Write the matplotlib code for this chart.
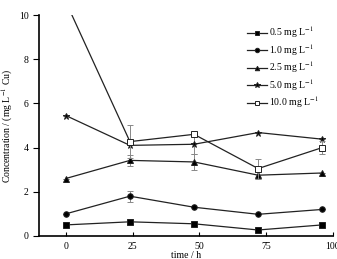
import matplotlib
matplotlib.use("Agg")
import matplotlib.pyplot as plt

plt.rcParams["font.family"] = ["Liberation Serif", "DejaVu Serif"]
plt.rcParams["mathtext.fontset"] = "stix"

time_h = [0, 24, 48, 72, 96]
conc_05 = [0.50, 0.64, 0.55, 0.27, 0.50]
conc_10 = [1.00, 1.80, 1.30, 0.98, 1.20]
conc_25 = [2.60, 3.42, 3.35, 2.75, 2.85]
conc_50 = [5.45, 4.10, 4.15, 4.68, 4.38]
conc_100 = [10.6, 4.27, 4.60, 3.05, 4.00]

# error bars only where the reference shows them
err_10 = [0, 0.25, 0, 0, 0]
err_25 = [0, 0.25, 0.35, 0.15, 0]
err_50 = [0, 0, 0.45, 0, 0]
err_100 = [0, 0.75, 0, 0.45, 0.3]

labels = ["0.5 mg L$^{-1}$", "1.0 mg L$^{-1}$", "2.5 mg L$^{-1}$",
          "5.0 mg L$^{-1}$", "10.0 mg L$^{-1}$"]

fig = plt.figure(figsize=(3.37, 2.59), dpi=100)
ax = fig.add_axes([0.116, 0.089, 0.872, 0.853])

series = [
    (conc_05, None, "s", "k"),
    (conc_10, err_10, "o", "k"),
    (conc_25, err_25, "^", "k"),
    (conc_50, err_50, "*", "k"),
    (conc_100, err_100, "s", "white"),
]
for (ys, err, mk, fc), lab in zip(series, labels):
    if err is not None:
        ax.errorbar(time_h, ys, yerr=err, fmt="none", ecolor="#888888",
                    elinewidth=0.7, capsize=2, capthick=0.7)
    ax.plot(time_h, ys, color="#222222", lw=0.9, marker=mk,
            ms=4 if mk != "*" else 5, mfc=fc, mec="#222222", mew=0.7,
            label=lab)

ax.set_xlim(-10, 100)
ax.set_ylim(0, 10)
ax.set_xticks([0, 25, 50, 75, 100])
ax.set_yticks([0, 2, 4, 6, 8, 10])
ax.spines["top"].set_visible(False)
ax.spines["right"].set_visible(False)
ax.spines["left"].set_linewidth(1.2)
ax.spines["bottom"].set_linewidth(1.2)
ax.tick_params(axis="x", direction="in", length=3, labelsize=7, pad=4)
ax.tick_params(axis="y", direction="out", length=4, labelsize=7)
ax.set_xlabel("time / h", fontsize=7, labelpad=0)
ax.set_ylabel("Concentration / (mg L$^{-1}$ Cu)", fontsize=7, labelpad=3)

ax.legend(loc="upper right", bbox_to_anchor=(0.945, 0.905),
          bbox_transform=fig.transFigure, frameon=False, fontsize=7,
          handlelength=2.0, handletextpad=0.2, labelspacing=0.2,
          borderaxespad=0, borderpad=0, markerscale=0.8)

fig.savefig("out.png", dpi=100)
